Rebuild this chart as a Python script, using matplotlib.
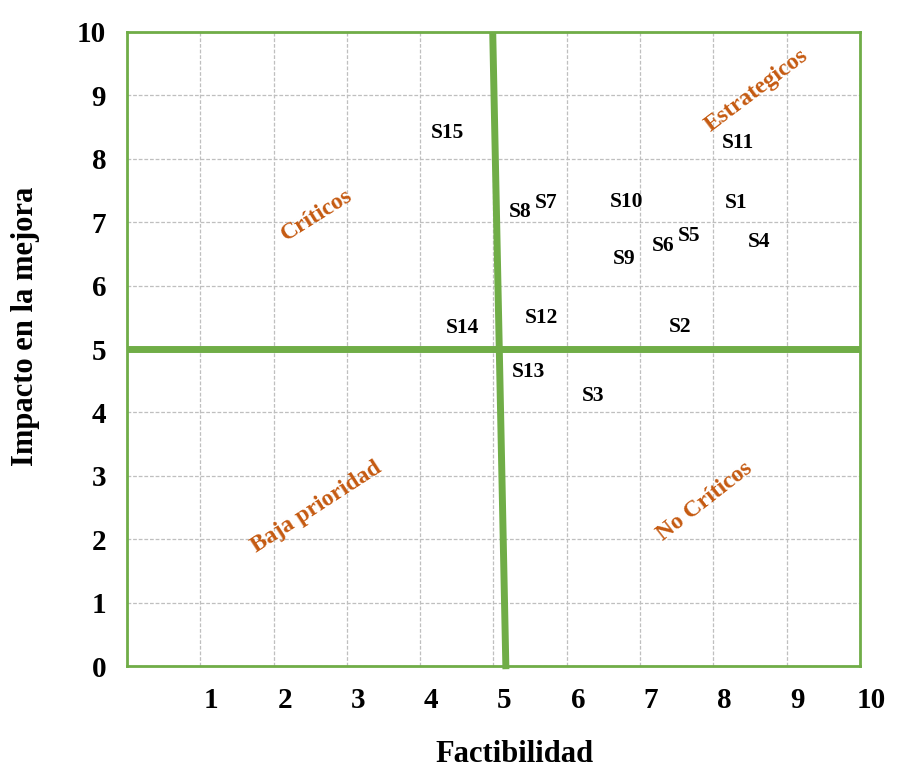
import matplotlib
matplotlib.use("Agg")
import matplotlib.pyplot as plt
import matplotlib.transforms as mtransforms

### === Data ===
labels = ["S1", "S2", "S3", "S4", "S5", "S6", "S7", "S8", "S9", "S10",
          "S11", "S12", "S13", "S14", "S15"]
factibilidad = [8.31, 7.54, 6.36, 8.62, 7.67, 7.31, 5.72, 5.36, 6.78, 6.82,
                8.33, 5.66, 5.48, 4.58, 4.37]
impacto = [7.30, 5.35, 4.26, 6.69, 6.78, 6.62, 7.30, 7.16, 6.42, 7.32,
           8.25, 5.49, 4.64, 5.33, 8.41]

quadrants = ["Críticos", "Estrategicos", "Baja prioridad", "No Críticos"]
quad_x = [2.59, 8.59, 2.58, 7.89]
quad_y = [7.11, 9.08, 2.51, 2.60]
quad_rot = [32, 37, 33, 38]

ticks = list(range(0, 11))

GREEN = "#70AD47"
ORANGE = "#C55A11"

plt.rcParams["font.family"] = ["Liberation Serif", "DejaVu Serif"]
plt.rcParams["font.weight"] = "bold"

### === Plot ===
fig = plt.figure(figsize=(9.03, 7.69), dpi=100)
ax = fig.add_axes([0.1406, 0.1339, 0.8117, 0.8245])
ax.set_xlim(0, 10)
ax.set_ylim(0, 10)

# grid
ax.set_xticks(ticks)
ax.set_yticks(ticks)
ax.grid(True, color="#BFBFBF", linestyle=(0, (3, 1.5)), linewidth=0.9)
ax.set_axisbelow(True)

# border
for sp in ax.spines.values():
    sp.set_color(GREEN)
    sp.set_linewidth(2)

# quadrant divisions
ax.plot([4.99, 5.17], [10, -0.05], color=GREEN, linewidth=5, clip_on=False,
        solid_capstyle="butt")
ax.plot([0, 10], [5, 5], color=GREEN, linewidth=5, solid_capstyle="butt")

# point labels
for lab, x, y in zip(labels, factibilidad, impacto):
    ax.text(x, y, lab, ha="center", va="center", fontsize=15.5,
            fontweight="bold", color="black")

# quadrant labels
for q, x, y, r in zip(quadrants, quad_x, quad_y, quad_rot):
    ax.text(x, y, q, ha="center", va="center", rotation=r, fontsize=17,
            fontweight="bold", color=ORANGE, rotation_mode="anchor")

# ticks
ax.tick_params(length=0, labelsize=21, pad=15)
ax.set_xticklabels(["" if t == 0 else str(t) for t in ticks])
ax.set_yticklabels([str(t) for t in ticks])
offset = mtransforms.ScaledTranslation(8 / 72, 0, fig.dpi_scale_trans)
for lbl in ax.get_xticklabels():
    lbl.set_transform(lbl.get_transform() + offset)
    lbl.set_fontweight("bold")
for lbl in ax.get_yticklabels():
    lbl.set_fontweight("bold")

ax.set_xlabel("Factibilidad", fontsize=22, fontweight="bold")
ax.set_ylabel("Impacto en la mejora", fontsize=22, fontweight="bold")
ax.xaxis.label.set_va("center")
ax.yaxis.label.set_va("center")
ax.xaxis.set_label_coords(0.529, -0.14)
ax.yaxis.set_label_coords(-0.139, 0.536)

fig.savefig("out.png", dpi=100, facecolor="white")
